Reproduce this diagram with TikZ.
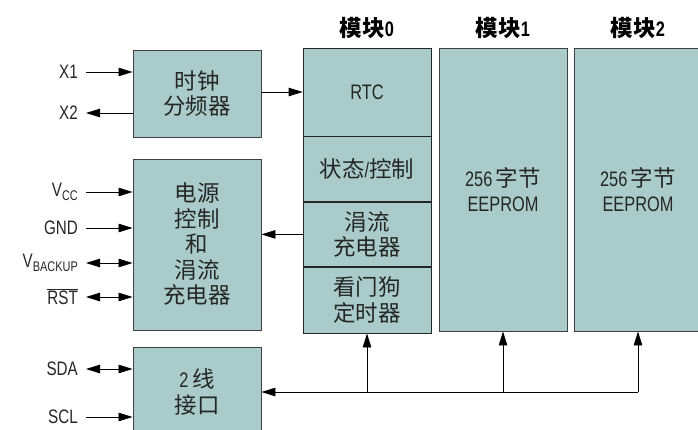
\documentclass[tikz,border=0pt]{standalone}
\usepackage{fontspec}
\setmainfont{Liberation Sans}[FakeStretch=0.78]
\newfontfamily\cjk{Noto Sans CJK SC}[Scale=1.07]
\usetikzlibrary{arrows.meta,positioning}
\definecolor{modfill}{HTML}{A9CBCA}
\newcommand{\pinsub}[1]{\raisebox{-3.5pt}{\fontsize{14}{14}\selectfont #1}}
\tikzset{
    block/.style={
        draw=black!75,
        fill=modfill,
        line width=0.9pt,
        rectangle,
        minimum width=128pt,
        inner sep=0pt,
        align=center,
        text=black!85,
        font=\fontsize{21}{25.5}\selectfont
    },
    part/.style={
        block,
        draw=black!85,
        line width=0.7pt
    },
    sig/.style={
        line width=0.8pt,
        -{Triangle[length=14pt,width=8.5pt]}
    },
    bisig/.style={
        line width=0.8pt,
        {Triangle[length=14pt,width=8.5pt]}-{Triangle[length=14pt,width=8.5pt]}
    },
    pinlabel/.style={
        anchor=east,
        inner sep=0pt,
        text=black!85,
        font=\fontsize{19.5}{24}\selectfont
    },
    title/.style={
        inner sep=0pt,
        font=\fontsize{21}{24}\selectfont\bfseries
    },
}
\begin{document}
\begin{tikzpicture}[x=1pt, y=-1pt]
    \clip (0,0) rectangle (698,430);

    % left side blocks
    \node[block, minimum height=87pt] (clkdiv) at (197,93.5) {\cjk 时钟\\\cjk 分频器};
    \node[block, minimum height=171pt] (power) at (197,244.5) {\cjk 电源\\\cjk 控制\\\cjk 和\\\cjk 涓流\\\cjk 充电器};
    \node[block, minimum height=90pt] (twowire) at (197,392) {2\,{\cjk 线}\\\cjk 接口};

    % module 0
    \node[part, minimum height=88pt] (rtc) at (367,92) {RTC};
    \node[part, minimum height=65pt, below=0pt of rtc] (stat) {{\cjk 状态}/{\cjk 控制}};
    \node[part, minimum height=64pt, below=0pt of stat] (trickle) {\cjk 涓流\\\cjk 充电器};
    \node[part, minimum height=66pt, below=0pt of trickle] (wdog) {\cjk 看门狗\\\cjk 定时器};

    % modules 1 and 2
    \node[block, minimum height=283pt] (mod1) at (503,189.5) {256\,{\cjk 字节}\\EEPROM};
    \node[block, minimum height=283pt] (mod2) at (638,189.5) {256\,{\cjk 字节}\\EEPROM};

    \node[title] (t0) at (367,28) {{\cjk 模块}0};
    \node[title] (t1) at (503,28) {{\cjk 模块}1};
    \node[title] (t2) at (638,28) {{\cjk 模块}2};

    % pins
    \node[pinlabel] (x1) at (78,72) {X1};
    \node[pinlabel] (x2) at (78,113) {X2};
    \node[pinlabel] (vcc) at (78,192) {V\pinsub{CC}};
    \node[pinlabel] (gnd) at (78,228) {GND};
    \node[pinlabel] (vbak) at (78,263) {V\pinsub{BACKUP}};
    \node[pinlabel] (rst) at (78,297) {$\overline{\mbox{RST}}$};
    \node[pinlabel] (sda) at (78,369) {SDA};
    \node[pinlabel] (scl) at (78,417) {SCL};

    \draw[sig] ([xshift=8pt]x1.east) -- (x1 -| clkdiv.west);
    \draw[sig] (x2 -| clkdiv.west) -- ([xshift=8pt]x2.east);
    \draw[sig] ([xshift=8pt]vcc.east) -- (vcc -| power.west);
    \draw[sig] ([xshift=8pt]gnd.east) -- (gnd -| power.west);
    \draw[bisig] ([xshift=8pt]vbak.east) -- (vbak -| power.west);
    \draw[bisig] ([xshift=8pt]rst.east) -- (rst -| power.west);
    \draw[bisig] ([xshift=8pt]sda.east) -- (sda -| twowire.west);
    \draw[sig] ([xshift=8pt]scl.east) -- (scl -| twowire.west);

    % internal connections
    \draw[sig] (clkdiv.east |- rtc.west) -- (rtc.west);
    \draw[sig] (trickle.west) -- (trickle.west -| power.east);
    \draw[sig] (mod2.south |- twowire.east) -- (twowire.east);
    \draw[sig] (wdog.south |- twowire.east) -- (wdog.south);
    \draw[sig] (mod1.south |- twowire.east) -- (mod1.south);
    \draw[sig] (mod2.south |- twowire.east) -- (mod2.south);
\end{tikzpicture}
\end{document}
